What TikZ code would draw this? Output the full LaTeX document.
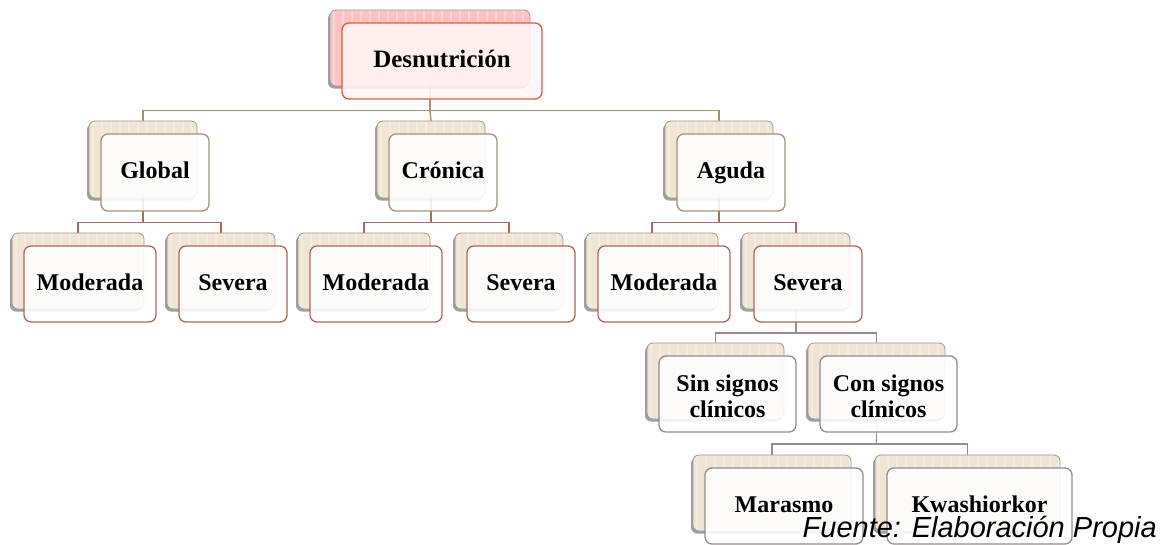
\documentclass[tikz,border=0pt]{standalone}
\usepackage{fontspec}
\setmainfont{Liberation Serif}
\newfontfamily\fuentefont{Liberation Sans}
\usetikzlibrary{shadows}
\pgfdeclarelayer{bg}
\pgfsetlayers{bg,main}

\definecolor{bgbeige}{HTML}{F0E4D4}
\definecolor{bgpink}{HTML}{FFC2C2}
\definecolor{backline}{HTML}{9E9894}
\definecolor{redline}{HTML}{DE5E38}
\definecolor{tanline}{HTML}{A8926C}
\definecolor{brownline}{HTML}{A66C5C}
\definecolor{grayline}{HTML}{978B8B}
\definecolor{pinkfront}{HTML}{FFF6F6}

\tikzset{
  backbox/.style={draw=backline, line width=0.8pt, rounded corners=6pt,
    anchor=north west, inner sep=0pt, outer sep=0pt,
    drop shadow={shadow xshift=-2pt, shadow yshift=-2.5pt, opacity=0.5, fill=black!75},
    path picture={\foreach \k in {4,13,...,260}{\draw[white, opacity=0.3, line width=2pt]
      ([xshift=\k pt]path picture bounding box.north west) --
      ([xshift=\k pt]path picture bounding box.south west);}}},
  beigeback/.style={backbox, fill=bgbeige},
  pinkback/.style={backbox, fill=bgpink},
  frontbox/.style={line width=1.3pt, rounded corners=7pt, anchor=north west,
    inner sep=0pt, outer sep=0pt, fill=white, fill opacity=0.88},
  redfront/.style={frontbox, draw=redline, fill=pinkfront},
  tanfront/.style={frontbox, draw=tanline},
  brownfront/.style={frontbox, draw=brownline},
  grayfront/.style={frontbox, draw=grayline},
  lbl/.style={font=\fontsize{24}{26}\selectfont\bfseries, inner sep=0pt,
    text height=17pt, text depth=5pt},
  lbltwo/.style={font=\fontsize{24}{26}\selectfont\bfseries, inner sep=0pt, align=center},
  tanconn/.style={draw=tanline, line width=1.4pt},
  brownconn/.style={draw=brownline, line width=1.4pt},
  grayconn/.style={draw=grayline, line width=1.4pt},
}

% #1 name, #2 x, #3 y, #4 w, #5 h, #6 back style, #7 front style
\newcommand\pairbox[7]{%
  \node[#6, minimum width=#4pt, minimum height=#5pt] (#1b) at (#2,#3) {};
  \node[#7, minimum width=#4pt, minimum height=#5pt] (#1f) at (#2+12,#3+13) {};
}

\begin{document}
\begin{tikzpicture}[x=1pt,y=-1pt]
\begin{pgfonlayer}{bg}
  \fill[white] (0,0) rectangle (1168,544);
\end{pgfonlayer}
\useasboundingbox (0,0) rectangle (1168,544);

\pairbox{des}{330}{10}{200}{76}{pinkback}{redfront}
\pairbox{glob}{89}{121}{108}{77}{beigeback}{tanfront}
\pairbox{cron}{377}{121}{108}{77}{beigeback}{tanfront}
\pairbox{agu}{665}{121}{108}{77}{beigeback}{tanfront}
\pairbox{gmod}{12}{233}{132}{76}{beigeback}{brownfront}
\pairbox{gsev}{167}{233}{108}{76}{beigeback}{brownfront}
\pairbox{cmod}{298}{233}{132}{76}{beigeback}{brownfront}
\pairbox{csev}{455}{233}{108}{76}{beigeback}{brownfront}
\pairbox{amod}{586}{233}{132}{76}{beigeback}{brownfront}
\pairbox{asev}{742}{233}{108}{76}{beigeback}{brownfront}
\pairbox{sin}{647}{343}{137}{76}{beigeback}{grayfront}
\pairbox{con}{808}{343}{137}{76}{beigeback}{grayfront}
\pairbox{mar}{693}{455}{158}{76}{beigeback}{grayfront}
\pairbox{kwa}{875}{455}{185}{76}{beigeback}{grayfront}

\node[lbl] (tdes) at (desf.center) {\fontsize{25}{27}\selectfont Desnutrición};
\node[lbl] (tglob) at (globf.center) {Global};
\node[lbl] (tcron) at (cronf.center) {Crónica};
\node[lbl] (tagu) at (aguf.center) {Aguda};
\node[lbl] (tgmod) at (gmodf.center) {Moderada};
\node[lbl] (tgsev) at (gsevf.center) {Severa};
\node[lbl] (tcmod) at (cmodf.center) {Moderada};
\node[lbl] (tcsev) at (csevf.center) {Severa};
\node[lbl] (tamod) at (amodf.center) {Moderada};
\node[lbl] (tasev) at (asevf.center) {Severa};
\node[lbltwo] (tsin) at ([yshift=-2pt]sinf.center) {Sin signos\\clínicos};
\node[lbltwo] (tcon) at ([yshift=-2pt]conf.center) {Con signos\\clínicos};
\node[lbl] (tmar) at (marf.center) {Marasmo};
\node[lbl] (tkwa) at (kwaf.center) {Kwashiorkor};

\coordinate (busa) at (0,110.5);
\coordinate (busb) at (0,222.5);
\coordinate (busc) at (0,333);
\coordinate (busd) at (0,444);

\begin{pgfonlayer}{bg}
  \draw[tanconn] (desb.south) -- (desb.south |- busa) -| (globb.north);
  \draw[tanconn] (desb.south |- busa) -- (cronb.north);
  \draw[tanconn] (desb.south |- busa) -| (agub.north);
  \draw[brownconn] (globb.south) -- (globb.south |- busb) -| (gmodb.north);
  \draw[brownconn] (globb.south |- busb) -| (gsevb.north);
  \draw[brownconn] (cronb.south) -- (cronb.south |- busb) -| (cmodb.north);
  \draw[brownconn] (cronb.south |- busb) -| (csevb.north);
  \draw[brownconn] (agub.south) -- (agub.south |- busb) -| (amodb.north);
  \draw[brownconn] (agub.south |- busb) -| (asevb.north);
  \draw[grayconn] (asevb.south) -- (asevb.south |- busc) -| (sinb.north);
  \draw[grayconn] (asevb.south |- busc) -| (conb.north);
  \draw[grayconn] (conb.south) -- (conb.south |- busd) -| (marb.north);
  \draw[grayconn] (conb.south |- busd) -| (kwab.north);
\end{pgfonlayer}

\node[font=\fuentefont\itshape\fontsize{29}{32}\selectfont, anchor=base east, inner sep=0pt]
  (fuente) at (1157,537) {Fuente: Elaboración Propia};
\end{tikzpicture}
\end{document}
